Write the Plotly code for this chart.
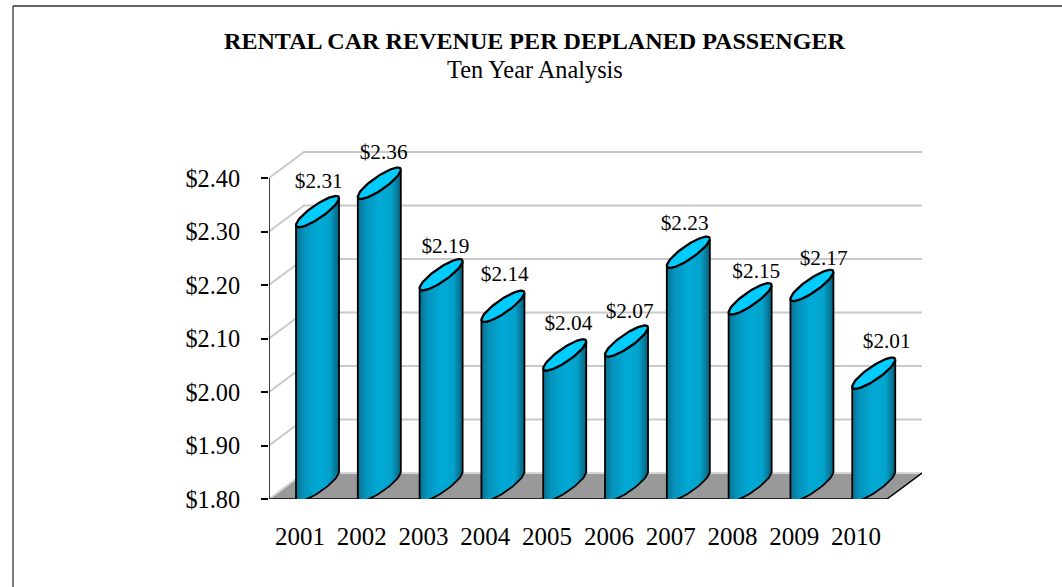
import numpy as np
import plotly.graph_objects as go

years = ["2001", "2002", "2003", "2004", "2005", "2006", "2007", "2008", "2009", "2010"]
revenue = [2.31, 2.36, 2.19, 2.14, 2.04, 2.07, 2.23, 2.15, 2.17, 2.01]
bar_levels = [2.312, 2.365, 2.194, 2.135, 2.044, 2.07, 2.236, 2.149, 2.174, 2.01]
label_shift = [0.02, 0.07, 0.07, 0.03, 0.06, 0.05, -0.06, 0.1, 0.19, 0.21]
label_lift = [0.08, 0.08, 0.076, 0.082, 0.081, 0.0775, 0.076, 0.0745, 0.0726, 0.083]
y_ticks = [1.8, 1.9, 2.0, 2.1, 2.2, 2.3, 2.4]
title = "RENTAL CAR REVENUE PER DEPLANED PASSENGER"
subtitle = "Ten Year Analysis"

W, H = 1062, 587
FONT = "Liberation Serif"
# pseudo-3D depth in axis units
DX, DY = 0.566, 0.0486
HW, AY, BY, CX = 0.348, 0.0252, 0.0148, 0.285
BASE = y_ticks[0]
LEFT, RIGHT = -0.5, 9.5
Y_TOP = 2.5
PX_PER_UNIT = 535

fig = go.Figure()


def line(xs, ys, color, width):
    fig.add_trace(go.Scatter(x=xs, y=ys, mode="lines", line=dict(color=color, width=width),
                             hoverinfo="skip", showlegend=False, cliponaxis=False))


# floor
fig.add_trace(go.Scatter(
    x=[LEFT, RIGHT, RIGHT + DX, LEFT + DX, LEFT], y=[BASE, BASE, BASE + DY, BASE + DY, BASE],
    mode="lines", fill="toself", fillcolor="#999999", line=dict(color="#999999", width=0.5),
    hoverinfo="skip", showlegend=False, cliponaxis=False))
# walls
for v in y_ticks[1:]:
    line([LEFT, LEFT + DX, RIGHT + DX], [v, v + DY, v + DY], "#c9c9c9", 2)
line([LEFT, LEFT + DX], [BASE, BASE + DY], "#d4d4d4", 2)
line([LEFT + DX, RIGHT + DX], [BASE + DY, BASE + DY], "#d8d8d8", 2)
# axes
line([LEFT, LEFT], [BASE, y_ticks[-1]], "#000000", 1.5)
line([LEFT, RIGHT, RIGHT + DX], [BASE, BASE, BASE + DY], "#000000", 1.5)


def ellipse(i, level, t):
    cx = i + CX
    cy = level + AY
    return cx + HW * np.cos(t), cy + AY * np.cos(t) + BY * np.sin(t)


gradient = dict(type="horizontal", colorscale=[
    [0, "#0a6f90"], [0.18, "#0593bb"], [0.5, "#00aad6"], [0.78, "#03a2cb"], [1, "#07607c"]])

for i, v in enumerate(bar_levels):
    lower = np.linspace(np.pi, 2 * np.pi, 40)
    back = np.linspace(2 * np.pi, np.pi, 40)
    bx, by = ellipse(i, BASE, lower)
    tx, ty = ellipse(i, v, back)
    fig.add_trace(go.Scatter(
        x=np.concatenate([bx, tx, bx[:1]]).tolist(), y=np.concatenate([by, ty, by[:1]]).tolist(),
        mode="lines", fill="toself", fillgradient=gradient, line=dict(color="#000000", width=1.8),
        hoverinfo="skip", showlegend=False, cliponaxis=True))
    full = np.linspace(0, 2 * np.pi, 80)
    ex, ey = ellipse(i, v, full)
    fig.add_trace(go.Scatter(
        x=ex.tolist(), y=ey.tolist(), mode="lines", fill="toself", fillcolor="#00ccff",
        line=dict(color="#000000", width=2.3), hoverinfo="skip", showlegend=False, cliponaxis=False))

fig.add_trace(go.Scatter(
    x=[i + CX + s for i, s in enumerate(label_shift)],
    y=[v + d for v, d in zip(bar_levels, label_lift)],
    mode="text", text=[f"${v:.2f}" for v in revenue], textposition="middle center",
    textfont=dict(family=FONT, size=21.3, color="#000000"),
    hoverinfo="skip", showlegend=False, cliponaxis=False))

fig.update_layout(
    width=W, height=H, autosize=False,
    margin=dict(l=0, r=0, t=0, b=0, pad=0), paper_bgcolor="#ffffff", plot_bgcolor="#ffffff",
    showlegend=False,
    xaxis=dict(domain=[269 / W, 922 / W], range=[LEFT, RIGHT + DX], showgrid=False, zeroline=False,
               showline=False, tickmode="array", tickvals=list(range(len(years))), ticktext=years,
               ticks="", ticklabelstandoff=20, tickangle=0, automargin=False,
               tickfont=dict(family=FONT, size=25, color="#000000")),
    yaxis=dict(domain=[(H - 499) / H, (H - 499 + (Y_TOP - BASE) * PX_PER_UNIT) / H], range=[BASE, Y_TOP],
               showgrid=False, zeroline=False, showline=False, tickmode="array", tickvals=y_ticks,
               ticktext=[f"${v:.2f}" for v in y_ticks], ticks="outside", ticklen=7, tickwidth=1.5,
               tickcolor="#000000", ticklabelstandoff=16, automargin=False,
               tickfont=dict(family=FONT, size=24.3, color="#000000")),
    annotations=[
        dict(text=f"<b>{title}</b>", x=535 / W, y=1 - 41 / H, xref="paper", yref="paper", showarrow=False,
             xanchor="center", yanchor="middle", font=dict(family=FONT, size=24.1, color="#000000")),
        dict(text=subtitle, x=534.5 / W, y=1 - 70 / H, xref="paper", yref="paper", showarrow=False,
             xanchor="center", yanchor="middle", font=dict(family=FONT, size=24.3, color="#000000")),
    ],
    shapes=[
        dict(type="line", xref="paper", yref="paper", x0=13 / W, x1=13 / W, y0=0, y1=1 - 6 / H,
             line=dict(color="#7a7a7a", width=2)),
        dict(type="line", xref="paper", yref="paper", x0=13 / W, x1=1, y0=1 - 6 / H, y1=1 - 6 / H,
             line=dict(color="#333333", width=1.5)),
    ],
)

fig.write_html("out.html", config={"displayModeBar": False},
               post_script="document.body.style.margin='0';document.documentElement.style.overflow='hidden';")
